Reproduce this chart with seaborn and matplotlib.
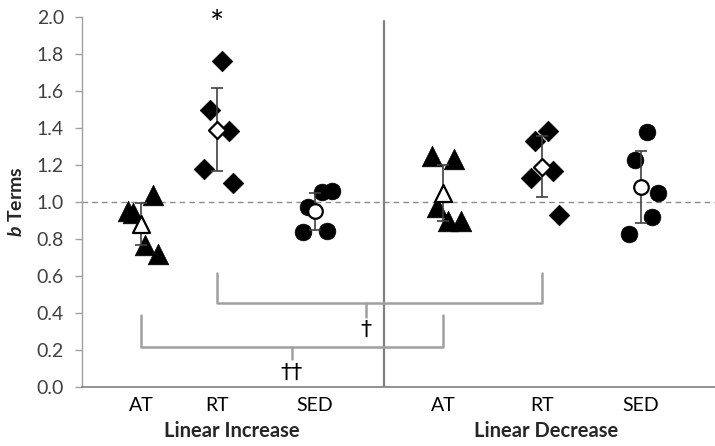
import matplotlib
matplotlib.use("Agg")
import matplotlib.pyplot as plt
import matplotlib.transforms as mtransforms
import seaborn as sns
import pandas as pd
import numpy as np

# ---------------- data ----------------
categories = ["AT", "RT", "SED", "AT", "RT", "SED"]
groups = ["Linear Increase", "Linear Increase", "Linear Increase",
          "Linear Decrease", "Linear Decrease", "Linear Decrease"]
shapes = ["tri", "dia", "cir", "tri", "dia", "cir"]

li_at = [0.95, 0.94, 1.04, 0.77, 0.72]
li_rt = [1.76, 1.50, 1.385, 1.18, 1.105]
li_sed = [1.055, 1.06, 0.975, 0.84, 0.845]
ld_at = [1.25, 1.23, 0.975, 0.895, 0.90]
ld_rt = [1.385, 1.33, 1.165, 1.13, 0.93]
ld_sed = [1.38, 1.225, 1.05, 0.92, 0.825]
series = [li_at, li_rt, li_sed, ld_at, ld_rt, ld_sed]

means = [0.88, 1.39, 0.95, 1.05, 1.19, 1.08]
errors = [0.115, 0.225, 0.10, 0.15, 0.165, 0.195]

# layout (positions on the x axis, jitter of individual points)
cat_pos = [0.59, 1.353, 2.33, 3.613, 4.597, 5.587]
jitter = [
    [-0.13, -0.08, 0.12, 0.04, 0.17],
    [0.044, -0.073, 0.12, -0.133, 0.16],
    [0.067, 0.167, -0.067, -0.117, 0.117],
    [-0.116, 0.107, -0.066, 0.05, 0.174],
    [0.06, -0.067, 0.116, -0.11, 0.176],
    [0.06, -0.057, 0.176, 0.11, -0.117],
]
divider_x = 3.02
group_label_x = [1.50, 4.64]

rows = []
for i, vals in enumerate(series):
    for v, j in zip(vals, jitter[i]):
        rows.append({"x": cat_pos[i] + j, "b": v, "shape": shapes[i],
                     "cat": categories[i], "group": groups[i]})
df = pd.DataFrame(rows)
mdf = pd.DataFrame({"x": cat_pos, "b": means, "shape": shapes})

# ---------------- style ----------------
sns.set_style("white")
plt.rcParams["font.family"] = ["Lato", "DejaVu Sans"]
plt.rcParams["mathtext.fontset"] = "custom"
plt.rcParams["mathtext.it"] = "Lato:italic:bold"
plt.rcParams["mathtext.rm"] = "Lato:bold"

fig = plt.figure(figsize=(7.15, 4.46), dpi=100)
ax = fig.add_axes([82 / 715, 59 / 446, 633 / 715, 370 / 446])

markers = {"tri": "^", "dia": "D", "cir": "o"}
sizes = {"tri": 220, "dia": 110, "cir": 145}

for shp in ["tri", "dia", "cir"]:
    sub = df[df["shape"] == shp]
    sns.scatterplot(data=sub, x="x", y="b", marker=markers[shp], s=sizes[shp],
                    color="black", edgecolor="black", linewidth=0.5,
                    legend=False, ax=ax, zorder=3)

# error bars
ax.errorbar(cat_pos, means, yerr=errors, fmt="none", ecolor="#404040",
            elinewidth=1.2, capsize=4, capthick=1.2, zorder=4)

msizes = {"tri": 150, "dia": 75, "cir": 110}
for shp in ["tri", "dia", "cir"]:
    sub = mdf[mdf["shape"] == shp]
    sns.scatterplot(data=sub, x="x", y="b", marker=markers[shp], s=msizes[shp],
                    color="white", edgecolor="black", linewidth=1.6,
                    legend=False, ax=ax, zorder=5)

# reference line and divider
ax.axhline(1.0, color="#8c8c8c", lw=1.0, ls=(0, (4, 3)), zorder=1)
ax.axvline(divider_x, ymin=0, ymax=0.99, color="#808080", lw=1.6, zorder=2)

# brackets
bc = "#a0a0a0"
blw = 1.8
# upper: LI RT <-> LD RT
x1, x2 = cat_pos[1], cat_pos[4]
ax.plot([x1, x1, x2, x2], [0.616, 0.454, 0.454, 0.616], color=bc, lw=blw, zorder=2)
ax.plot([2.84, 2.84], [0.454, 0.378], color=bc, lw=blw, zorder=2)
ax.text(2.84, 0.31, "\u2020", ha="center", va="center", fontsize=16,
        color="black", family="DejaVu Sans")
# lower: LI AT <-> LD AT
x1, x2 = cat_pos[0], cat_pos[3]
ax.plot([x1, x1, x2, x2], [0.389, 0.214, 0.214, 0.389], color=bc, lw=blw, zorder=2)
ax.plot([2.097, 2.097], [0.214, 0.151], color=bc, lw=blw, zorder=2)
ax.text(2.097, 0.075, "\u2020\u2020", ha="center", va="center", fontsize=16,
        color="black", family="DejaVu Sans")

# asterisk
ax.text(cat_pos[1], 1.955, "*", ha="center", va="center", fontsize=24, color="black")

# axes
ax.set_xlim(0, 6.33)
ax.set_ylim(0, 2.0)
ax.set_yticks(np.arange(0, 2.01, 0.2))
ax.set_yticklabels([f"{v:.1f}" for v in np.arange(0, 2.01, 0.2)])
ax.set_xticks(cat_pos)
ax.set_xticklabels(categories)
ax.tick_params(axis="y", length=5, width=1, color="#a0a0a0", labelsize=14,
               labelcolor="#404040", pad=8, left=True)
ax.tick_params(axis="x", length=0, labelsize=14, labelcolor="black", pad=7)
for s in ["top", "right"]:
    ax.spines[s].set_visible(False)
ax.spines["left"].set_color("#a0a0a0")
ax.spines["left"].set_linewidth(1.0)
ax.spines["bottom"].set_color("#808080")
ax.spines["bottom"].set_linewidth(1.2)

ax.set_xlabel("")
ax.set_ylabel(r"$b$ Terms", fontsize=14, fontweight="bold", labelpad=8)

trans = mtransforms.blended_transform_factory(ax.transData, fig.transFigure)
ax.text(group_label_x[0], 1 - 431 / 446, "Linear Increase", transform=trans,
        ha="center", va="center", fontsize=14.5, fontweight="bold")
ax.text(group_label_x[1], 1 - 431 / 446, "Linear Decrease", transform=trans,
        ha="center", va="center", fontsize=14.5, fontweight="bold")

fig.savefig("out.png", dpi=100)
